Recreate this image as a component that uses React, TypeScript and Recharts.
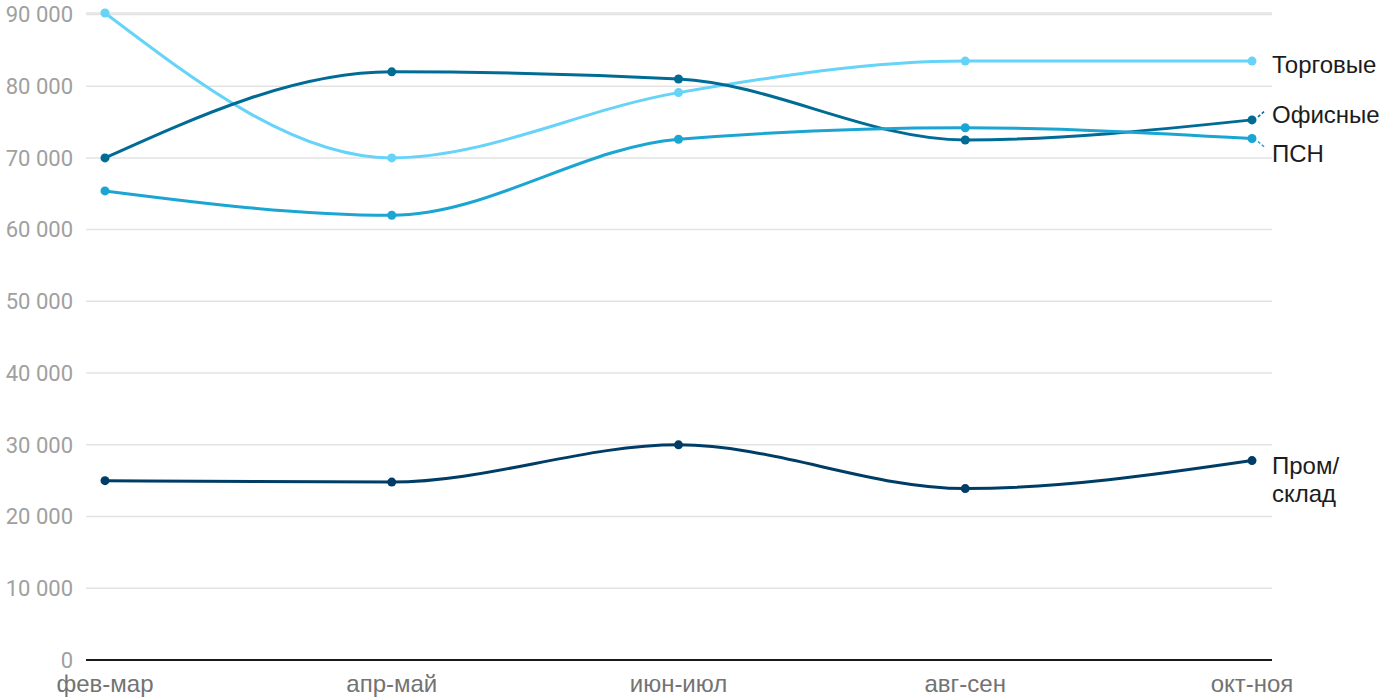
import React from "react";
import { LineChart, Line, XAxis, YAxis, CartesianGrid, LabelList, ReferenceLine } from "recharts";

const periods = ["фев-мар", "апр-май", "июн-июл", "авг-сен", "окт-ноя"];
const torgovye = [90200, 70000, 79100, 83500, 83500];
const ofisnye = [70000, 82000, 81000, 72500, 75300];
const psn = [65400, 62000, 72600, 74200, 72700];
const promSklad = [25000, 24800, 30000, 23900, 27800];
const yTicks = [0, 10000, 20000, 30000, 40000, 50000, 60000, 70000, 80000, 90000];

const series = [
  { key: "torg", name: "Торговые", values: torgovye, color: "#66d3f8", lines: ["Торговые"], shift: 4, connector: false },
  { key: "ofis", name: "Офисные", values: ofisnye, color: "#006b94", lines: ["Офисные"], shift: -5, connector: true },
  { key: "psn", name: "ПСН", values: psn, color: "#1aa5d2", lines: ["ПСН"], shift: 15, connector: true },
  { key: "prom", name: "Пром/склад", values: promSklad, color: "#003d66", lines: ["Пром/", "склад"], shift: 19, connector: false },
];

const data = periods.map((p, i) => {
  const row: any = { period: p };
  series.forEach((s) => {
    row[s.key] = s.values[i];
  });
  return row;
});

const fmt = (v: number) => String(v).replace(/\B(?=(\d{3})+(?!\d))/g, " ");

function makeLabel(s: (typeof series)[number]) {
  return (props: any) => {
    const { x, y, index } = props;
    if (index !== periods.length - 1) return null;
    const ty = y + s.shift;
    const lh = 28;
    const startY = ty - ((s.lines.length - 1) * lh) / 2;
    return (
      <g>
        {s.connector && (
          <line
            x1={x + 6}
            y1={y + (s.shift > 0 ? 3 : -3)}
            x2={x + 13}
            y2={y + (s.shift > 0 ? 9 : -9)}
            stroke={s.color}
            strokeWidth={1.5}
            strokeDasharray="3 2"
          />
        )}
        {s.lines.map((t, k) => (
          <text
            key={k}
            x={x + 20}
            y={startY + k * lh}
            dy="0.35em"
            fontSize={24}
            fill="#1c1c1c"
            fontFamily="Liberation Sans, Arial, sans-serif"
          >
            {t}
          </text>
        ))}
      </g>
    );
  };
}

export default function App() {
  return (
    <div style={{ position: "absolute", left: 0, top: 0, background: "#fff" }}>
      <LineChart
        width={1400}
        height={700}
        data={data}
        margin={{ top: 13, right: 128, left: 0, bottom: 0 }}
        style={{ fontFamily: "Roboto, sans-serif" }}
      >
        <CartesianGrid vertical={false} stroke="#e3e3e3" strokeWidth={1.5} />
        <XAxis
          dataKey="period"
          height={40}
          padding={{ left: 19, right: 20 }}
          axisLine={false}
          tickLine={false}
          tickSize={0}
          tickMargin={15}
          tick={{ fontSize: 24, fill: "#737373", fontFamily: "Liberation Sans, Arial, sans-serif" }}
          interval={0}
        />
        <YAxis
          width={86}
          domain={[0, 90000]}
          ticks={yTicks}
          axisLine={false}
          tickLine={false}
          tickSize={0}
          tickMargin={13}
          tickFormatter={fmt}
          tick={{ fontSize: 22, fill: "#a0a0a0" }}
        />
        <ReferenceLine y={0} stroke="#1a1a1a" strokeWidth={2} />
        {series.map((s) => (
          <Line
            key={s.key}
            dataKey={s.key}
            name={s.name}
            type="monotone"
            stroke={s.color}
            strokeWidth={3}
            dot={{ r: 4.5, fill: s.color, stroke: s.color, strokeWidth: 0 }}
            isAnimationActive={false}
          >
            <LabelList dataKey={s.key} content={makeLabel(s)} />
          </Line>
        ))}
      </LineChart>
    </div>
  );
}
